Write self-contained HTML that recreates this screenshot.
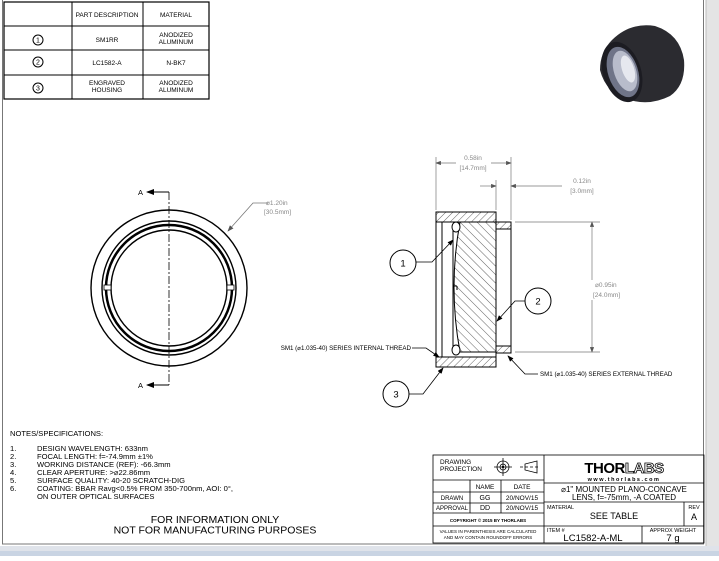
<!DOCTYPE html><html><head><style>
body{margin:0;width:719px;height:556px;overflow:hidden;background:#fff;font-family:"Liberation Sans",sans-serif}
</style></head><body>
<svg width="719" height="556" viewBox="0 0 719 556" xmlns="http://www.w3.org/2000/svg" font-family="Liberation Sans, sans-serif">
<defs>
<pattern id="h" width="5" height="5" patternUnits="userSpaceOnUse" patternTransform="rotate(45)"><line x1="0" y1="0" x2="0" y2="5" stroke="#222" stroke-width="0.7"/></pattern>
<pattern id="h2" width="6" height="6" patternUnits="userSpaceOnUse" patternTransform="rotate(-45)"><line x1="0" y1="0" x2="0" y2="6" stroke="#222" stroke-width="0.7"/></pattern>
<marker id="ar" markerWidth="8" markerHeight="6" refX="7" refY="3" orient="auto"><path d="M0,0 L8,3 L0,6z" fill="#555"/></marker>
<marker id="ak" markerWidth="8" markerHeight="6" refX="7" refY="3" orient="auto"><path d="M0,0 L8,3 L0,6z" fill="#000"/></marker>
</defs>
<rect x="706" y="0" width="13" height="556" fill="#e4e4e4"/>
<line x1="706" y1="0" x2="706" y2="548" stroke="#bbb"/>
<rect x="0" y="546" width="719" height="10" fill="#dfe3ea"/>
<rect x="0" y="551" width="719" height="5" fill="#c9d4e3"/>
<rect x="2.5" y="-1" width="701" height="545" fill="none" stroke="#777" stroke-width="1"/>
<!-- parts table -->
<g stroke="#000" stroke-width="1" fill="none">
<rect x="4" y="2" width="205" height="97" stroke-width="1.2"/>
<line x1="72" y1="2" x2="72" y2="99"/><line x1="143" y1="2" x2="143" y2="99"/>
<line x1="4" y1="26" x2="209" y2="26"/><line x1="4" y1="50" x2="209" y2="50"/><line x1="4" y1="75" x2="209" y2="75"/>
<circle cx="38" cy="40" r="5"/><circle cx="38" cy="62" r="5"/><circle cx="38" cy="88" r="5"/>
</g>
<g font-size="6.5" text-anchor="middle" fill="#000">
<text x="107" y="17">PART DESCRIPTION</text><text x="176" y="17">MATERIAL</text>
<text x="38" y="42.5" font-size="7">1</text><text x="38" y="64.5" font-size="7">2</text><text x="38" y="90.5" font-size="7">3</text>
<text x="107" y="42">SM1RR</text><text x="176" y="37">ANODIZED</text><text x="176" y="44">ALUMINUM</text>
<text x="107" y="65">LC1582-A</text><text x="176" y="65">N-BK7</text>
<text x="107" y="85">ENGRAVED</text><text x="107" y="92">HOUSING</text><text x="176" y="85">ANODIZED</text><text x="176" y="92">ALUMINUM</text>
</g>
<!-- photo -->
<g>
<path d="M612 40 Q630 22 655 26 Q680 34 684 60 Q686 85 670 96 Q650 106 630 100 Q606 94 600 70 Q600 52 612 40z" fill="#2b2b30"/>
<ellipse cx="622" cy="72" rx="19" ry="31" fill="#1c1c22" transform="rotate(-18 622 72)"/>
<ellipse cx="623" cy="72" rx="15" ry="26" fill="#6f7488" transform="rotate(-18 623 72)"/>
<ellipse cx="625" cy="71" rx="11" ry="21" fill="#b8bccb" transform="rotate(-18 625 71)"/>
<ellipse cx="628" cy="69" rx="6" ry="14" fill="#e6e8ef" transform="rotate(-18 628 69)"/>
</g>
<!-- front view -->
<g fill="none" stroke="#000">
<circle cx="169" cy="288" r="78" stroke-width="1.4"/>
<circle cx="169" cy="288" r="67" stroke-width="1.4"/>
<circle cx="169" cy="288" r="63" stroke-width="2.5"/>
<circle cx="169" cy="288" r="58" stroke-width="1.4"/>
<rect x="104" y="285" width="7" height="5" fill="#fff" stroke-width="0.8"/>
<rect x="227" y="285" width="7" height="5" fill="#fff" stroke-width="0.8"/>
<line x1="169" y1="192" x2="169" y2="385" stroke-dasharray="8,2,2,2" stroke-width="0.8"/>
<line x1="169" y1="192" x2="147" y2="192" marker-end="url(#ak)"/>
<line x1="169" y1="385" x2="147" y2="385" marker-end="url(#ak)"/>
<polyline points="268,203 253,203 228,231" stroke="#777" stroke-width="0.8" marker-end="url(#ar)"/>
</g>
<g font-size="7.5" fill="#000"><text x="138" y="195">A</text><text x="138" y="388">A</text></g>
<g font-size="6.5" fill="#888"><text x="266" y="205">⌀1.20in</text><text x="264" y="214">[30.5mm]</text></g>
<!-- section view -->
<g stroke="#000" stroke-width="1">
<rect x="436" y="212" width="60" height="155" fill="#fff"/>
<rect x="496" y="222" width="15" height="131" fill="#fff"/>
<rect x="436" y="212" width="60" height="10" fill="url(#h)"/>
<rect x="436" y="357" width="60" height="10" fill="url(#h)"/>
<rect x="496" y="222" width="15" height="7" fill="url(#h)"/>
<rect x="496" y="346" width="15" height="7" fill="url(#h)"/>
<path d="M460 222 L496 222 L496 352 L460 352 Q448 287 460 222z" fill="url(#h2)"/>
<line x1="442" y1="222" x2="442" y2="357"/>
<line x1="453" y1="228" x2="453" y2="351"/>
<ellipse cx="456" cy="227" rx="4" ry="5" fill="#fff"/>
<ellipse cx="456" cy="350" rx="4" ry="5" fill="#fff"/>
<line x1="453" y1="286" x2="457" y2="286"/><line x1="457" y1="286" x2="457" y2="290"/>
<line x1="511" y1="222" x2="511" y2="353"/>
</g>
<g stroke="#777" stroke-width="0.7" fill="none">
<line x1="436" y1="157" x2="436" y2="210"/><line x1="511" y1="157" x2="511" y2="220"/><line x1="496" y1="180" x2="496" y2="210"/>
<line x1="456" y1="163" x2="436" y2="163" marker-end="url(#ar)"/><line x1="491" y1="163" x2="511" y2="163" marker-end="url(#ar)"/>
<line x1="480" y1="186" x2="496" y2="186" marker-end="url(#ar)"/><line x1="530" y1="186" x2="511" y2="186" marker-end="url(#ar)"/><line x1="530" y1="186" x2="562" y2="186"/>
<line x1="515" y1="222" x2="600" y2="222"/><line x1="515" y1="352" x2="600" y2="352"/>
<line x1="592" y1="280" x2="592" y2="222" marker-end="url(#ar)"/><line x1="592" y1="300" x2="592" y2="352" marker-end="url(#ar)"/>
</g>
<g font-size="6.5" fill="#888" text-anchor="middle"><text x="473" y="160">0.58in</text><text x="473" y="170">[14.7mm]</text>
<text x="582" y="183">0.12in</text><text x="582" y="193">[3.0mm]</text></g>
<g font-size="6.5" fill="#888"><text x="595" y="287">⌀0.95in</text><text x="593" y="297">[24.0mm]</text></g>
<!-- balloons -->
<g fill="#fff" stroke="#000" stroke-width="1">
<circle cx="403" cy="263" r="13"/><circle cx="538" cy="301" r="13"/><circle cx="396" cy="394" r="13"/>
</g>
<g stroke="#000" stroke-width="0.8" fill="none">
<polyline points="416,262 432,262 453,240" marker-end="url(#ak)"/>
<polyline points="525,301 515,301 497,321" marker-end="url(#ak)"/>
<polyline points="409,394 423,394 443,368" marker-end="url(#ak)"/>
<polyline points="412,348 426,348 439,357" marker-end="url(#ak)"/>
<polyline points="538,374 525,374 508,356" marker-end="url(#ak)"/>
</g>
<g font-size="9.5" text-anchor="middle"><text x="403" y="266.5">1</text><text x="538" y="304.5">2</text><text x="396" y="397.5">3</text></g>
<g font-size="6.2" fill="#000"><text x="411" y="350" text-anchor="end">SM1 (⌀1.035-40) SERIES INTERNAL THREAD</text>
<text x="540" y="376">SM1 (⌀1.035-40) SERIES EXTERNAL THREAD</text></g>
<!-- notes -->
<g font-size="7.6" fill="#000">
<text x="10" y="436">NOTES/SPECIFICATIONS:</text>
<text x="10" y="451">1.</text><text x="37" y="451">DESIGN WAVELENGTH: 633nm</text>
<text x="10" y="459">2.</text><text x="37" y="459">FOCAL LENGTH: f=-74.9mm ±1%</text>
<text x="10" y="467">3.</text><text x="37" y="467">WORKING DISTANCE (REF): -66.3mm</text>
<text x="10" y="475">4.</text><text x="37" y="475">CLEAR APERTURE: &gt;⌀22.86mm</text>
<text x="10" y="483">5.</text><text x="37" y="483">SURFACE QUALITY: 40-20 SCRATCH-DIG</text>
<text x="10" y="491">6.</text><text x="37" y="491">COATING: BBAR Ravg&lt;0.5% FROM 350-700nm, AOI: 0°,</text>
<text x="37" y="499">ON OUTER OPTICAL SURFACES</text>
</g>
<g font-size="10.5" text-anchor="middle"><text x="215" y="523">FOR INFORMATION ONLY</text><text x="215" y="533.5">NOT FOR MANUFACTURING PURPOSES</text></g>
<!-- title block -->
<g stroke="#000" stroke-width="0.8" fill="none">
<rect x="433" y="455" width="271" height="88"/>
<line x1="544" y1="455" x2="544" y2="543"/>
<line x1="433" y1="480" x2="544" y2="480"/><line x1="433" y1="492" x2="544" y2="492"/><line x1="433" y1="503" x2="544" y2="503"/>
<line x1="433" y1="513" x2="544" y2="513"/><line x1="433" y1="526" x2="544" y2="526"/>
<line x1="470" y1="480" x2="470" y2="513"/><line x1="501" y1="480" x2="501" y2="513"/>
<line x1="544" y1="483" x2="704" y2="483"/><line x1="544" y1="502" x2="704" y2="502"/><line x1="544" y1="526" x2="704" y2="526"/>
<line x1="684" y1="502" x2="684" y2="526"/><line x1="642" y1="526" x2="642" y2="543"/>
<circle cx="503" cy="467" r="6"/><circle cx="503" cy="467" r="3"/><line x1="494" y1="467" x2="512" y2="467"/><line x1="503" y1="458" x2="503" y2="476"/>
<path d="M537 461 L537 473 L525 470 L525 464z"/><line x1="520" y1="467" x2="540" y2="467" stroke-dasharray="3,2"/>
</g>
<circle cx="503" cy="467" r="1.2" fill="#000"/>
<g fill="#000">
<text x="440" y="464" font-size="6.5">DRAWING</text><text x="440" y="471" font-size="6.5">PROJECTION</text>
<text x="485" y="489" font-size="6.5" text-anchor="middle">NAME</text><text x="522" y="489" font-size="6.5" text-anchor="middle">DATE</text>
<text x="452" y="500" font-size="6" text-anchor="middle">DRAWN</text><text x="485" y="500" font-size="7" text-anchor="middle">GG</text><text x="522" y="500" font-size="6.5" text-anchor="middle">20/NOV/15</text>
<text x="452" y="510" font-size="6" text-anchor="middle">APPROVAL</text><text x="485" y="510" font-size="7" text-anchor="middle">DD</text><text x="522" y="510" font-size="6.5" text-anchor="middle">20/NOV/15</text>
<text x="488" y="522" font-size="4.5" font-weight="bold" text-anchor="middle">COPYRIGHT © 2015 BY THORLABS</text>
<text x="488" y="533" font-size="4.5" text-anchor="middle">VALUES IN PARENTHESIS ARE CALCULATED</text>
<text x="488" y="539" font-size="4.5" text-anchor="middle">AND MAY CONTAIN ROUNDOFF ERRORS</text>
<text x="624" y="473" font-size="15" font-weight="bold" text-anchor="middle" letter-spacing="-0.5">THOR<tspan fill="#fff" stroke="#000" stroke-width="0.8">LABS</tspan></text>
<text x="624" y="481" font-size="5.5" font-weight="bold" text-anchor="middle" letter-spacing="1.5">www.thorlabs.com</text>
<text x="624" y="492" font-size="8" text-anchor="middle">⌀1" MOUNTED PLANO-CONCAVE</text>
<text x="624" y="500" font-size="8" text-anchor="middle">LENS, f=-75mm, -A COATED</text>
<text x="547" y="509" font-size="5.5">MATERIAL</text><text x="614" y="519" font-size="9" text-anchor="middle">SEE TABLE</text>
<text x="694" y="509" font-size="5.5" text-anchor="middle">REV</text><text x="694" y="520" font-size="9" text-anchor="middle">A</text>
<text x="547" y="532" font-size="5.5">ITEM #</text><text x="593" y="541" font-size="9.5" text-anchor="middle">LC1582-A-ML</text>
<text x="673" y="532" font-size="5.5" text-anchor="middle">APPROX WEIGHT</text><text x="673" y="541" font-size="9.5" text-anchor="middle">7 g</text>
</g>
</svg>
</body></html>
